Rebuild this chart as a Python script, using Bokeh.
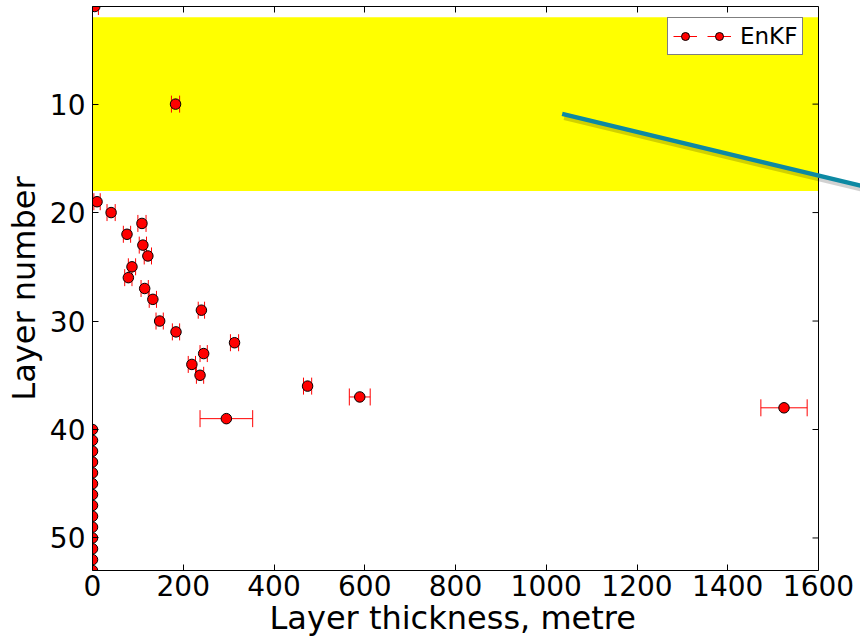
import math

from bokeh.core.properties import value
from bokeh.embed import file_html
from bokeh.models import (Arrow, BoxAnnotation, ColumnDataSource,
                          CustomLabelingPolicy, FixedTicker, Legend,
                          LegendItem, LinearAxis, Range1d, Span, Title)
from bokeh.plotting import figure
from bokeh.resources import INLINE

# Layer index and estimated thickness (metres) with one-sigma spread
layer = [1, 10, 19, 20, 21, 22, 23, 24, 25, 26, 27, 28, 29, 30, 31, 32, 33,
         34, 35, 36, 37, 38, 39, 40, 41, 42, 43, 44, 45, 46, 47, 48, 49, 50,
         51, 52, 53]
thickness = [5, 183, 10, 41, 109, 76, 111, 122, 87, 79, 115, 133, 240, 148,
             184, 313, 245, 219, 237, 474, 589, 1524, 295, 0, 0, 0, 0, 0, 0,
             0, 0, 0, 0, 0, 0, 0, 0]
thickness_err = [8, 9, 7, 9, 9, 8, 8, 8, 8, 8, 8, 8, 7, 8, 8, 9, 8, 8, 8, 9,
                 23, 51, 58, 0, 0, 0, 0, 0, 0, 0, 0, 0, 0, 0, 0, 0, 0]

# Highlighted layer band
band_top_layer = 2
band_bottom_layer = 18

# Axis limits, ticks and titles
x_min, x_max = 0, 1600
y_min, y_max = 1, 53
x_ticks = [0, 200, 400, 600, 800, 1000, 1200, 1400, 1600]
y_ticks = [10, 20, 30, 40, 50]
x_title = "Layer thickness, metre"
y_title = "Layer number"
series_name = "EnKF"

# Pointer line (data coordinates); it runs off past the right spine
pointer_start = (1035, 10.9)
pointer_end = (1800, 18.6)

FONT = "DejaVu Sans"

# Canvas layout: the axes box is 726 px wide, the canvas keeps 42 px of
# drawable space to its right so the pointer can run past the spine.
LEFT_PAD, AXES_W, RIGHT_PAD = 92, 726, 42
x_view_max = x_max * (AXES_W + RIGHT_PAD) / AXES_W

lo = [t - e for t, e in zip(thickness, thickness_err)]
hi = [t + e for t, e in zip(thickness, thickness_err)]
src = ColumnDataSource(dict(x=thickness, y=layer, lo=lo, hi=hi))

cap_x, cap_y = [], []
for l, a, b, e in zip(layer, lo, hi, thickness_err):
    if e > 0:
        cap_x += [a, b]
        cap_y += [l, l]
cap_src = ColumnDataSource(dict(x=cap_x, y=cap_y))

p = figure(width=LEFT_PAD + AXES_W + RIGHT_PAD, height=638,
           x_range=Range1d(x_min, x_view_max), y_range=Range1d(y_max, y_min),
           output_backend="svg", toolbar_location=None,
           min_border_left=LEFT_PAD, min_border_right=0,
           min_border_top=6, min_border_bottom=68,
           background_fill_color="white", border_fill_color="white")
p.xgrid.visible = False
p.ygrid.visible = False
p.outline_line_color = None

band = BoxAnnotation(left=x_min, right=x_max,
                     top=band_top_layer, bottom=band_bottom_layer,
                     fill_color="#ffff00", fill_alpha=1, line_color=None,
                     level="underlay")
p.add_layout(band)

bars = p.segment(x0="lo", y0="y", x1="hi", y1="y", source=src,
                 line_color="red", line_width=1)
p.scatter(x="x", y="y", source=cap_src, marker="dash", angle=math.pi / 2,
          size=17, line_color="red", line_width=1)
pts = p.scatter(x="x", y="y", source=src, size=10.5, fill_color="red",
                line_color="black", line_width=1)

# Pointer line with a soft shadow
shadow = Arrow(end=None, x_start=pointer_start[0] + 5, y_start=pointer_start[1] + 0.25,
               x_end=pointer_end[0] + 5, y_end=pointer_end[1] + 0.25,
               line_color="black", line_alpha=0.18, line_width=7, level="overlay")
pointer = Arrow(end=None, x_start=pointer_start[0], y_start=pointer_start[1],
                x_end=pointer_end[0], y_end=pointer_end[1],
                line_color="#0d89a3", line_width=4.5, level="overlay")
p.add_layout(shadow)
p.add_layout(pointer)

# Axes
for ax in (p.xaxis[0], p.yaxis[0]):
    ax.major_label_text_font = FONT
    ax.major_label_text_font_size = "28px"
    ax.major_label_text_color = "black"
    ax.axis_label_text_font = FONT
    ax.axis_label_text_font_size = "32px"
    ax.axis_label_text_font_style = "normal"
    ax.axis_label_text_color = "black"
    ax.major_tick_in = 6
    ax.major_tick_out = 0
    ax.minor_tick_line_color = None
    ax.axis_line_color = "black"
    ax.major_tick_line_color = "black"

p.xaxis.bounds = (x_min, x_max)
p.xaxis.ticker = FixedTicker(ticks=x_ticks)
p.yaxis.ticker = FixedTicker(ticks=y_ticks)
p.yaxis.axis_label = y_title
p.xaxis.major_label_standoff = 4
p.yaxis.major_label_standoff = 7
p.yaxis.axis_label_standoff = 4

# x title centred under the spine-bounded axes box, not the whole canvas
x_label = Title(text=x_title, align="left", offset=177, standoff=0,
                vertical_align="top", text_font=FONT, text_font_size="32px",
                text_font_style="normal", text_color="black")
p.add_layout(x_label, "below")

# Top spine with inward ticks, no labels
no_labels = CustomLabelingPolicy(
    code="for (const i of indices) { indices.unset(i) }\nreturn indices")
top_ax = LinearAxis(ticker=FixedTicker(ticks=x_ticks), bounds=(x_min, x_max),
                    major_label_text_font_size="1px", major_label_standoff=0,
                    major_label_policy=no_labels,
                    major_tick_in=6, major_tick_out=0,
                    minor_tick_line_color=None, axis_line_color="black")
p.add_layout(top_ax, "above")

# Right spine with inward ticks
p.add_layout(Span(location=x_max, dimension="height", line_color="black",
                  line_width=1, level="guide"))
p.ray(x=[x_max] * len(y_ticks), y=y_ticks, length=6, length_units="screen",
      angle=math.pi, line_color="black", line_width=1)

legend = Legend(
    items=[LegendItem(label=value(""), renderers=[bars, pts]),
           LegendItem(label=value(series_name), renderers=[bars, pts])],
    orientation="horizontal", location=(575, 515),
    label_text_font=FONT, label_text_font_size="23px",
    label_text_color="black",
    glyph_width=24, glyph_height=20, label_standoff=9, spacing=1,
    padding=5, label_width=0, label_height=0, margin=0,
    border_line_color="black", border_line_width=1,
    background_fill_color="white", background_fill_alpha=1)
p.add_layout(legend)

open("out.html", "w").write(file_html(p, INLINE))
